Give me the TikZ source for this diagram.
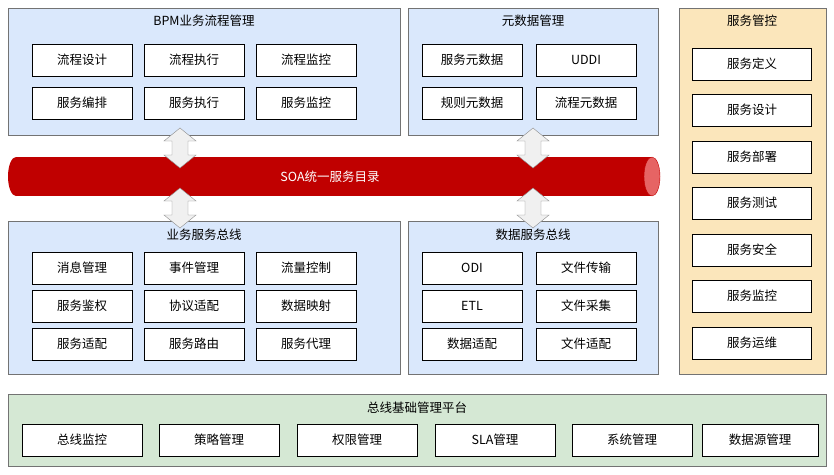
\documentclass[tikz,border=0pt]{standalone}
\usepackage{fontspec}
\setmainfont{Liberation Sans}
\newfontfamily\cjk{Noto Sans CJK SC}
\definecolor{pblue}{RGB}{218,232,252}
\definecolor{pbeige}{RGB}{251,230,187}
\definecolor{pgreen}{RGB}{213,232,212}
\definecolor{cred}{RGB}{192,0,0}
\definecolor{cpink}{RGB}{230,100,100}
\begin{document}
\begin{tikzpicture}[x=1pt,y=-1pt,font=\cjk\fontsize{12.5}{14}\selectfont,
  panel/.style={draw=black!55,fill=pblue,inner sep=0pt,anchor=north west},
  box/.style={draw=black,fill=white,minimum width=100pt,minimum height=32pt,inner sep=0pt},
  vbox/.style={box,minimum width=119pt},
  gbox/.style={box,minimum width=120pt},
  dar/.style={draw=black!45,fill=black!6}]
\useasboundingbox (0,0) rectangle (834,474);
% panels
\node[panel,minimum width=392pt,minimum height=127pt] (bpm) at (8,8) {};
\node[anchor=north] (bpmt) at (204,11) {BPM业务流程管理};
\node[panel,minimum width=250pt,minimum height=127pt] (meta) at (408,8) {};
\node[anchor=north] (metat) at (533,11) {元数据管理};
\node[panel,fill=pbeige,minimum width=147pt,minimum height=366pt] (ctl) at (679,8) {};
\node[anchor=north] (ctlt) at (752,11) {服务管控};
\node[panel,minimum width=392pt,minimum height=153pt] (bus) at (8,221) {};
\node[anchor=north] (bust) at (204,225) {业务服务总线};
\node[panel,minimum width=250pt,minimum height=153pt] (dbus) at (408,221) {};
\node[anchor=north] (dbust) at (533,225) {数据服务总线};
\node[panel,fill=pgreen,minimum width=818pt,minimum height=72pt] (plat) at (8,394) {};
\node[anchor=north] (platt) at (417,398) {总线基础管理平台};
% BPM boxes
\foreach \t/\x/\y [count=\i] in {流程设计/82/60,流程执行/194/60,流程监控/306/60,服务编排/82/103,服务执行/194/103,服务监控/306/103}
  \node[box] (b\i) at (\x,\y) {\t};
\node[box] (m1) at (472,60) {服务元数据};
\node[box] (m2) at (586,60) {UDDI};
\node[box] (m3) at (472,103) {规则元数据};
\node[box] (m4) at (586,103) {流程元数据};
\foreach \t/\y [count=\i] in {服务定义/64,服务设计/110,服务部署/157,服务测试/203,服务安全/250,服务监控/296,服务运维/343}
  \node[vbox] (c\i) at (752,\y) {\t};
\foreach \t/\x/\y [count=\i] in {消息管理/82/268,事件管理/194/268,流量控制/306/268,服务鉴权/82/306,协议适配/194/306,数据映射/306/306,服务适配/82/344,服务路由/194/344,服务代理/306/344}
  \node[box] (s\i) at (\x,\y) {\t};
\foreach \t/\x/\y [count=\i] in {ODI/472/268,文件传输/586/268,ETL/472/306,文件采集/586/306,数据适配/472/344,文件适配/586/344}
  \node[box] (d\i) at (\x,\y) {\t};
\foreach \t/\x [count=\i] in {总线监控/82,策略管理/219,权限管理/357,SLA管理/495,系统管理/632}
  \node[gbox] (p\i) at (\x,440) {\t};
\node[box,minimum width=116pt] (p6) at (760,440) {数据源管理};
% cylinder
\fill[cred] (16,157) rectangle (652,196);
\fill[cred] (16,176.5) ellipse[x radius=8,y radius=19.5];
\draw[fill=cpink,draw=cred] (652,176.5) ellipse[x radius=8,y radius=19.5];
\node[text=white] (soa) at (330,177) {SOA统一服务目录};
% double arrows
\foreach \x/\a/\b in {180/128/168,180/188/228,533/128/168,533/188/228}{
  \draw[dar] (\x,\a) -- (\x+16,\a+13) -- (\x+8,\a+13) -- (\x+8,\b-13) -- (\x+16,\b-13) -- (\x,\b) -- (\x-16,\b-13) -- (\x-8,\b-13) -- (\x-8,\a+13) -- (\x-16,\a+13) -- cycle;
}
\end{tikzpicture}
\end{document}
